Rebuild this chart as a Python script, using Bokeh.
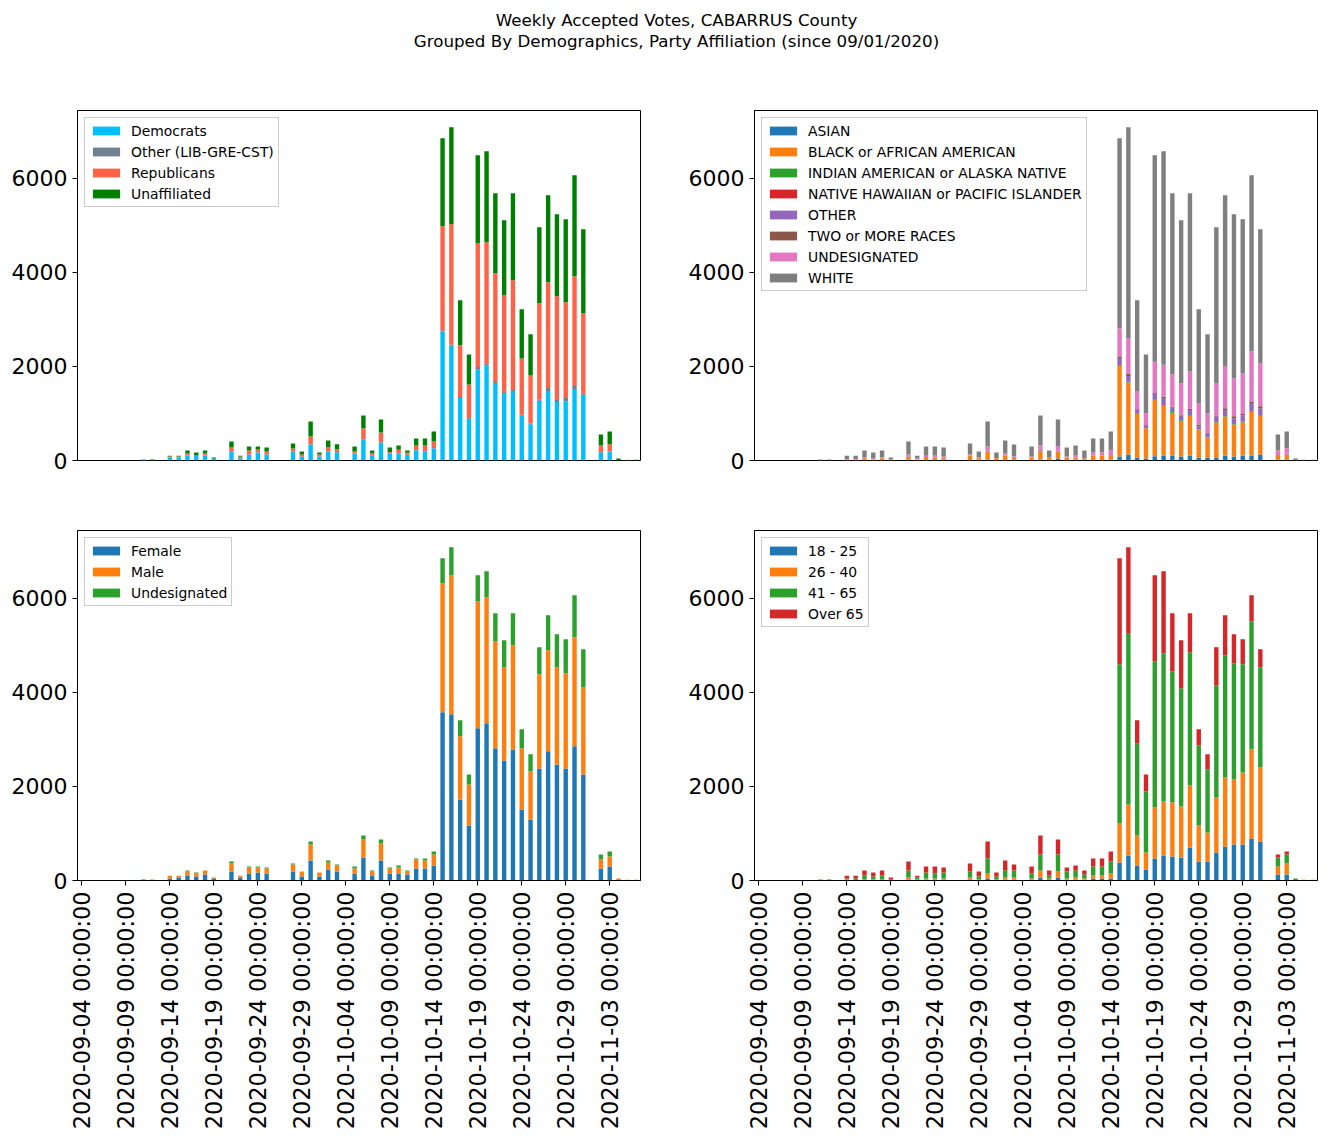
import math
import pandas as pd
from bokeh.plotting import figure
from bokeh.models import ColumnDataSource, Range1d, FixedTicker, Label
from bokeh.layouts import column, row
from bokeh.embed import file_html
from bokeh.resources import INLINE

# ---------------- data ----------------
first_day = "2020-09-04"
last_day = "2020-11-06"

dates = ["2020-09-11", "2020-09-12", "2020-09-14", "2020-09-15", "2020-09-16", "2020-09-17",
         "2020-09-18", "2020-09-19", "2020-09-21", "2020-09-22", "2020-09-23", "2020-09-24",
         "2020-09-25", "2020-09-28", "2020-09-29", "2020-09-30", "2020-10-01", "2020-10-02",
         "2020-10-03", "2020-10-05", "2020-10-06", "2020-10-07", "2020-10-08", "2020-10-09",
         "2020-10-10", "2020-10-11", "2020-10-12", "2020-10-13", "2020-10-14", "2020-10-15",
         "2020-10-16", "2020-10-17", "2020-10-18", "2020-10-19", "2020-10-20", "2020-10-21",
         "2020-10-22", "2020-10-23", "2020-10-24", "2020-10-25", "2020-10-26", "2020-10-27",
         "2020-10-28", "2020-10-29", "2020-10-30", "2020-10-31", "2020-11-02", "2020-11-03",
         "2020-11-04", "2020-11-05", "2020-11-06"]

tick_labels = ["2020-09-04 00:00:00", "2020-09-09 00:00:00", "2020-09-14 00:00:00",
               "2020-09-19 00:00:00", "2020-09-24 00:00:00", "2020-09-29 00:00:00",
               "2020-10-04 00:00:00", "2020-10-09 00:00:00", "2020-10-14 00:00:00",
               "2020-10-19 00:00:00", "2020-10-24 00:00:00", "2020-10-29 00:00:00",
               "2020-11-03 00:00:00"]

# Party affiliation
party_labels = ["Democrats", "Other (LIB-GRE-CST)", "Republicans", "Unaffiliated"]
democrats = [20, 0, 64, 64, 106, 100, 106, 43, 191, 50, 128, 170, 128, 191, 85, 340, 85, 191, 177,
             149, 445, 100, 376, 142, 142, 121, 220, 198, 262, 2740, 2440, 1330, 890, 1936, 2021,
             1645, 1418, 1475, 950, 770, 1270, 1475, 1241, 1262, 1518, 1376, 177, 191, 8, 0, 0]
other_party = [0, 0, 0, 0, 0, 0, 0, 0, 0, 0, 0, 5, 0, 0, 0, 5, 0, 0, 5, 0, 10, 0, 10, 0, 0, 0, 0,
               0, 0, 30, 25, 18, 12, 50, 36, 21, 36, 25, 20, 15, 20, 65, 43, 64, 64, 50, 0, 0, 0, 0, 0]
republicans = [0, 0, 21, 21, 43, 6, 43, 0, 86, 35, 85, 59, 63, 64, 43, 165, 43, 86, 57, 42, 230,
               55, 210, 35, 85, 43, 99, 121, 142, 2209, 2556, 1099, 715, 2631, 2581, 2313, 2057,
               2330, 1200, 1023, 2050, 2247, 2205, 2036, 2333, 1702, 142, 156, 5, 15, 0]
unaffiliated = [0, 20, 15, 15, 64, 64, 64, 21, 127, 15, 85, 64, 86, 107, 63, 320, 42, 148, 106,
                107, 272, 58, 276, 100, 92, 49, 149, 149, 213, 1872, 2064, 957, 638, 1872, 1936,
                1702, 1595, 1851, 1043, 873, 1617, 1851, 1745, 1766, 2149, 1787, 234, 270, 30, 0, 15]

# Race
race_labels = ["ASIAN", "BLACK or AFRICAN AMERICAN", "INDIAN AMERICAN or ALASKA NATIVE",
               "NATIVE HAWAIIAN or PACIFIC ISLANDER", "OTHER", "TWO or MORE RACES",
               "UNDESIGNATED", "WHITE"]
asian = [0, 0, 0, 0, 0, 0, 0, 0, 20, 0, 0, 10, 0, 0, 0, 20, 0, 0, 20, 0, 20, 0, 43, 0, 20, 20, 0,
         0, 20, 85, 128, 64, 43, 92, 106, 106, 85, 106, 64, 64, 64, 106, 85, 106, 106, 128, 20, 20,
         0, 0, 0]
black = [0, 0, 15, 15, 50, 20, 50, 20, 65, 20, 60, 54, 50, 106, 50, 170, 50, 106, 45, 64, 171, 64,
         148, 64, 44, 22, 106, 106, 86, 1925, 1530, 925, 640, 1200, 1060, 910, 760, 845, 590, 425,
         745, 830, 680, 700, 930, 820, 85, 105, 3, 0, 0]
indian = [0, 0, 0, 0, 0, 0, 0, 0, 0, 0, 0, 0, 0, 0, 0, 0, 0, 0, 0, 0, 0, 0, 0, 0, 0, 0, 0, 0, 0,
          15, 10, 5, 5, 15, 15, 15, 15, 15, 5, 2, 10, 10, 10, 15, 15, 15, 0, 0, 0, 0, 0]
hawaiian = [0, 0, 0, 0, 0, 0, 0, 0, 0, 0, 0, 0, 0, 0, 0, 0, 0, 0, 0, 0, 0, 0, 0, 0, 0, 0, 0, 0, 0,
            5, 5, 0, 0, 0, 0, 0, 0, 0, 0, 0, 0, 0, 0, 0, 0, 0, 0, 0, 0, 0, 0]
other_race = [0, 0, 0, 0, 5, 0, 0, 0, 10, 0, 15, 0, 0, 0, 0, 15, 0, 0, 5, 0, 23, 0, 15, 0, 0, 0,
              0, 0, 10, 150, 125, 80, 45, 110, 130, 90, 100, 110, 65, 90, 120, 125, 125, 140, 170,
              150, 0, 25, 0, 0, 0]
two_more = [0, 0, 0, 0, 0, 0, 0, 0, 0, 0, 0, 0, 0, 0, 0, 10, 0, 0, 10, 0, 20, 0, 0, 0, 0, 0, 0, 0,
            0, 20, 50, 15, 15, 20, 45, 20, 20, 25, 40, 5, 20, 40, 40, 30, 35, 40, 10, 0, 0, 0, 0]
undesignated_race = [0, 0, 10, 10, 16, 20, 21, 0, 33, 22, 25, 42, 35, 22, 14, 83, 0, 43, 10, 21,
                     85, 0, 99, 21, 42, 0, 71, 71, 104, 610, 745, 380, 255, 660, 680, 690, 655, 790,
                     450, 420, 675, 895, 810, 860, 1065, 910, 100, 110, 5, 0, 0]
white = [20, 20, 75, 75, 142, 130, 142, 44, 276, 58, 198, 192, 192, 234, 127, 532, 120, 276, 250,
         213, 638, 149, 567, 192, 213, 171, 291, 291, 397, 4041, 4492, 1935, 1252, 4392, 4538,
         3850, 3471, 3790, 1999, 1675, 3323, 3632, 3484, 3277, 3743, 2852, 338, 357, 35, 15, 15]

# Gender
gender_labels = ["Female", "Male", "Undesignated"]
female = [20, 0, 43, 64, 106, 85, 128, 43, 191, 64, 149, 170, 149, 191, 85, 425, 85, 234, 191, 149,
          489, 106, 425, 149, 149, 128, 255, 255, 319, 3574, 3532, 1723, 1170, 3234, 3340, 2809,
          2553, 2787, 1511, 1298, 2383, 2745, 2468, 2383, 2851, 2255, 255, 298, 12, 0, 0]
male = [0, 20, 57, 36, 85, 64, 85, 21, 171, 36, 128, 107, 106, 149, 106, 341, 85, 149, 128, 106,
        383, 85, 362, 106, 128, 63, 192, 170, 234, 2745, 2957, 1341, 873, 2702, 2681, 2276, 1979,
        2213, 1298, 1021, 2000, 2149, 2064, 2021, 2319, 1851, 192, 213, 31, 15, 15]
undesignated_gender = [0, 0, 0, 0, 22, 21, 0, 0, 42, 0, 21, 21, 22, 22, 0, 64, 0, 42, 21, 43, 85,
                       22, 85, 22, 42, 22, 21, 43, 64, 532, 596, 340, 212, 553, 553, 596, 574, 681,
                       404, 362, 574, 744, 702, 724, 894, 809, 106, 106, 0, 0, 0]

# Age
age_labels = ["18 - 25", "26 - 40", "41 - 65", "Over 65"]
age_18_25 = [0, 0, 0, 0, 0, 0, 0, 0, 21, 0, 21, 21, 21, 21, 0, 43, 0, 21, 21, 21, 64, 0, 64, 21,
             21, 21, 43, 43, 43, 383, 532, 319, 234, 468, 532, 511, 489, 702, 404, 404, 596, 723,
             766, 766, 894, 830, 128, 128, 5, 0, 0]
age_26_40 = [0, 0, 21, 0, 21, 21, 21, 0, 43, 21, 22, 22, 22, 43, 21, 106, 21, 43, 43, 22, 149, 43,
             127, 22, 43, 22, 63, 63, 106, 830, 1085, 638, 362, 1085, 1149, 1149, 1085, 1319, 766,
             617, 1170, 1468, 1383, 1532, 1893, 1574, 170, 234, 5, 15, 15]
age_41_65 = [20, 0, 22, 43, 85, 64, 85, 21, 149, 43, 127, 106, 127, 127, 64, 319, 64, 149, 149,
             106, 340, 63, 362, 148, 149, 85, 192, 192, 255, 3383, 3628, 1958, 1298, 3107, 3149,
             2787, 2511, 2830, 1702, 1341, 2383, 2596, 2468, 2298, 2724, 2128, 191, 191, 33, 0, 0]
age_over_65 = [0, 20, 57, 57, 107, 85, 107, 43, 191, 36, 128, 149, 107, 171, 106, 362, 85, 212,
               127, 149, 404, 107, 319, 86, 106, 85, 170, 170, 213, 2255, 1840, 489, 361, 1829,
               1744, 1234, 1021, 830, 341, 319, 808, 851, 617, 532, 553, 383, 64, 64, 0, 0, 0]

# ---------------- chart ----------------
FONT = "DejaVu Sans"
day0 = pd.Timestamp(first_day)
n_days = (pd.Timestamp(last_day) - day0).days + 1
xs = [(pd.Timestamp(d) - day0).days for d in dates]
tick_pos = [(pd.Timestamp(t[:10]) - day0).days for t in tick_labels]
all_totals = [sum(v) for v in zip(democrats, other_party, republicans, unaffiliated)]
y_top = max(all_totals) * 1.05

party_colors = ["#00bfff", "#708090", "#ff6347", "#008000"]
tab10 = ["#1f77b4", "#ff7f0e", "#2ca02c", "#d62728", "#9467bd", "#8c564b", "#e377c2", "#7f7f7f"]


def make_panel(width, height, left, right, top, bottom, show_x, labels, colors, values):
    p = figure(width=width, height=height, output_backend="svg", toolbar_location=None,
               x_range=Range1d(-0.5, n_days - 0.5), y_range=Range1d(0, y_top),
               min_border_left=left, min_border_right=right,
               min_border_top=top, min_border_bottom=bottom)
    names = ["s%d" % i for i in range(len(values))]
    data = {"x": xs}
    for n, v in zip(names, values):
        data[n] = v
    src = ColumnDataSource(data)
    p.vbar_stack(names, x="x", width=0.5, source=src, fill_color=colors[:len(values)],
                 line_color=None, legend_label=labels)
    p.grid.visible = False
    p.outline_line_color = "black"
    p.outline_line_alpha = 1.0
    p.outline_line_width = 1
    p.background_fill_color = "white"

    p.yaxis.ticker = FixedTicker(ticks=[0, 2000, 4000, 6000], minor_ticks=[])
    p.yaxis.major_label_text_font = FONT
    p.yaxis.major_label_text_font_size = "22px"
    p.yaxis.major_label_text_color = "black"
    p.yaxis.axis_line_color = "black"
    p.yaxis.major_tick_line_color = "black"
    p.yaxis.major_tick_out = 5
    p.yaxis.major_tick_in = 0
    p.yaxis.major_label_standoff = 5

    if show_x:
        p.xaxis.ticker = FixedTicker(ticks=tick_pos, minor_ticks=[])
        p.xaxis.major_label_overrides = {pos: lab for pos, lab in zip(tick_pos, tick_labels)}
        p.xaxis.major_label_orientation = math.pi / 2
        p.xaxis.major_label_text_font = FONT
        p.xaxis.major_label_text_font_size = "22.4px"
        p.xaxis.major_label_text_color = "black"
        p.xaxis.axis_line_color = "black"
        p.xaxis.major_tick_line_color = "black"
        p.xaxis.major_tick_out = 5
        p.xaxis.major_tick_in = 0
        p.xaxis.major_label_standoff = 6
    else:
        p.xaxis.visible = False

    lg = p.legend[0]
    lg.location = "top_left"
    lg.label_text_font = FONT
    lg.label_text_font_size = "13.9px"
    lg.label_text_color = "black"
    lg.glyph_width = 34
    lg.glyph_height = 11
    lg.label_height = 17
    lg.spacing = 4
    lg.padding = 4
    lg.margin = 7
    lg.label_standoff = 8
    lg.border_line_color = "#cccccc"
    lg.border_line_width = 1
    lg.border_line_alpha = 1.0
    lg.background_fill_alpha = 0.8
    return p


LEFT_W, RIGHT_W = 679, 639
TOP_H, BOT_H = 430, 643

p1 = make_panel(LEFT_W, TOP_H, 77, 39, 50, 30, False, party_labels, party_colors,
                [democrats, other_party, republicans, unaffiliated])
p2 = make_panel(RIGHT_W, TOP_H, 75, 1, 50, 30, False, race_labels, tab10,
                [asian, black, indian, hawaiian, other_race, two_more, undesignated_race, white])
p3 = make_panel(LEFT_W, BOT_H, 77, 39, 40, 253, True, gender_labels, tab10,
                [female, male, undesignated_gender])
p4 = make_panel(RIGHT_W, BOT_H, 75, 1, 40, 253, True, age_labels, tab10,
                [age_18_25, age_26_40, age_41_65, age_over_65])

# title block
title_lines = ["Weekly Accepted Votes, CABARRUS County",
               "Grouped By Demographics, Party Affiliation (since 09/01/2020)"]
tw = LEFT_W + RIGHT_W
th = 60
tp = figure(width=tw, height=th, output_backend="svg", toolbar_location=None,
            x_range=Range1d(0, tw), y_range=Range1d(th, 0), min_border=0,
            x_axis_location=None, y_axis_location=None)
tp.grid.visible = False
tp.outline_line_color = None
for i, line in enumerate(title_lines):
    tp.add_layout(Label(x=676, y=19 + 21 * i, text=line, text_align="center",
                        text_baseline="middle", text_font=FONT, text_font_size="16.7px",
                        text_color="black"))

layout = column(tp, row(p1, p2), row(p3, p4))
open("out.html", "w").write(file_html(layout, INLINE))
